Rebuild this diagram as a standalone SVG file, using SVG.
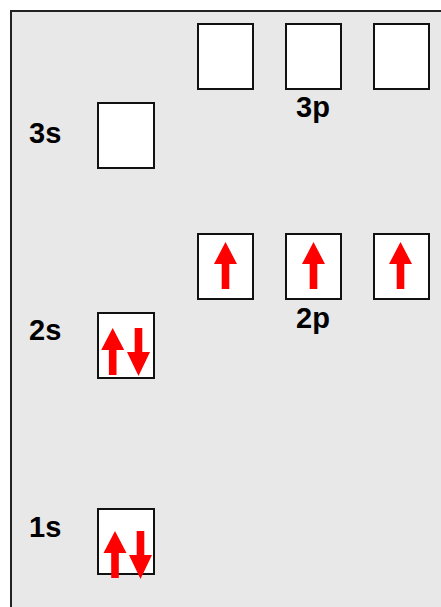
<svg xmlns="http://www.w3.org/2000/svg" width="441" height="607" viewBox="0 0 441 607">
<defs>
<style>
.bg{fill:#e8e8e8;stroke:#222;stroke-width:2}
.box{fill:#fff;stroke:#111;stroke-width:2}
.lbl{font-family:"Liberation Sans",Arial,sans-serif;font-weight:bold;font-size:29px;fill:#000}
.arr{fill:#ff0000}
</style>
<path id="up" class="arr" d="M0,0 L11.5,22 L3.8,22 L3.8,47 L-3.8,47 L-3.8,22 L-11.5,22 Z"/>
<path id="dn" class="arr" d="M0,0 L11.5,-24 L3.8,-24 L3.8,-48 L-3.8,-48 L-3.8,-24 L-11.5,-24 Z"/>
</defs>
<rect class="bg" x="11" y="11" width="440" height="610"/>
<g id="orb3s"><rect class="box" x="98" y="103" width="56" height="65"/><text class="lbl" x="29" y="143">3s</text></g>
<g id="orb3p">
<rect class="box" x="198" y="24" width="55" height="65"/>
<rect class="box" x="286" y="24" width="55" height="65"/>
<rect class="box" x="374" y="24" width="55" height="65"/>
<text class="lbl" x="313" y="117" text-anchor="middle">3p</text>
</g>
<g id="orb2p">
<rect class="box" x="198" y="234" width="55" height="65"/>
<rect class="box" x="286" y="234" width="55" height="65"/>
<rect class="box" x="374" y="234" width="55" height="65"/>
<use href="#up" x="225.5" y="242"/>
<use href="#up" x="313.5" y="242"/>
<use href="#up" x="400.5" y="242"/>
<text class="lbl" x="313" y="328" text-anchor="middle">2p</text>
</g>
<g id="orb2s">
<rect class="box" x="98" y="313" width="56" height="65"/>
<use href="#up" x="112.7" y="328"/>
<use href="#dn" x="138.5" y="376"/>
<text class="lbl" x="29" y="340">2s</text>
</g>
<g id="orb1s">
<rect class="box" x="98" y="509" width="56" height="65"/>
<use href="#up" x="115" y="531"/>
<use href="#dn" x="140.5" y="579"/>
<text class="lbl" x="29" y="537">1s</text>
</g>
<g id="connectors"></g>
</svg>
